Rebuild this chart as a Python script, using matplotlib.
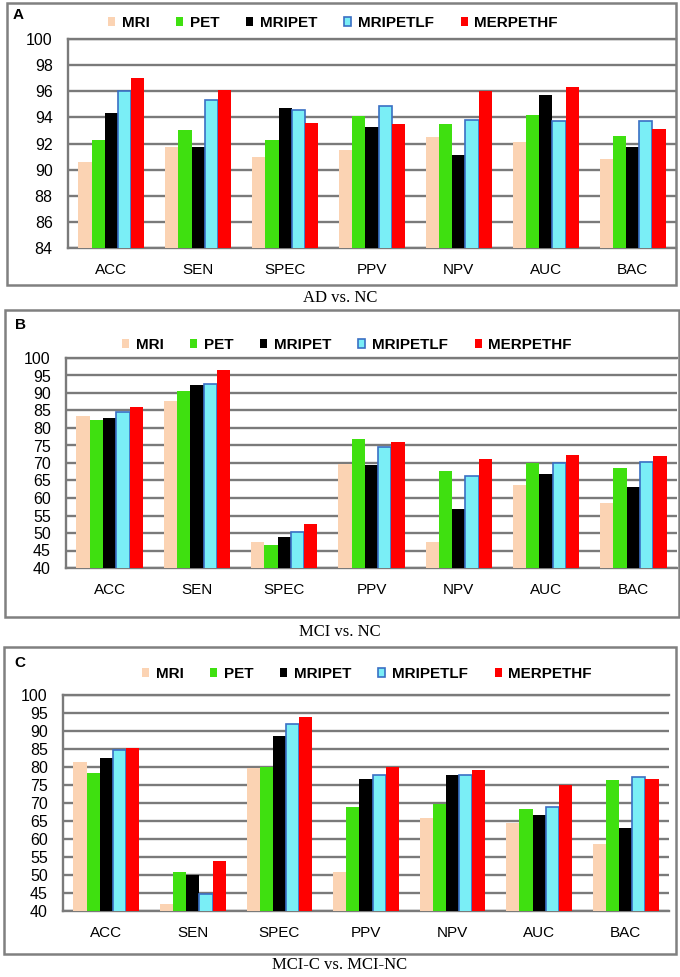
import matplotlib.pyplot as plt
from matplotlib.patches import Rectangle
import numpy as np

# categories and methods
metrics = ["ACC", "SEN", "SPEC", "PPV", "NPV", "AUC", "BAC"]
methods = ["MRI", "PET", "MRIPET", "MRIPETLF", "MERPETHF"]

# panel A: AD vs. NC
ad_mri      = [90.6, 91.7, 91.0, 91.5, 92.5, 92.1, 90.8]
ad_pet      = [92.3, 93.0, 92.3, 94.1, 93.5, 94.2, 92.6]
ad_mripet   = [94.3, 91.7, 94.7, 93.3, 91.1, 95.7, 91.7]
ad_mripetlf = [96.0, 95.3, 94.6, 94.9, 93.8, 93.7, 93.7]
ad_merpethf = [97.0, 96.1, 93.6, 93.5, 96.0, 96.3, 93.1]

# panel B: MCI vs. NC
mci_mri      = [83.5, 87.6, 47.4, 69.7, 47.4, 63.8, 58.6]
mci_pet      = [82.2, 90.5, 46.5, 76.9, 67.6, 69.9, 68.5]
mci_mripet   = [82.8, 92.4, 48.9, 69.5, 56.8, 66.8, 63.0]
mci_mripetlf = [84.6, 92.6, 50.2, 74.6, 66.4, 70.0, 70.3]
mci_merpethf = [85.9, 96.7, 52.6, 75.9, 71.0, 72.3, 71.9]

# panel C: MCI-C vs. MCI-NC
mcic_mri      = [81.5, 42.0, 79.6, 50.9, 65.9, 64.5, 58.6]
mcic_pet      = [78.4, 50.7, 79.9, 69.0, 69.8, 68.4, 76.4]
mcic_mripet   = [82.6, 50.1, 88.7, 76.8, 77.8, 66.8, 63.1]
mcic_mripetlf = [84.6, 44.8, 91.9, 77.9, 77.7, 69.0, 77.1]
mcic_merpethf = [85.2, 54.0, 94.0, 79.9, 79.2, 75.0, 76.7]

colors = ["#FBD3B3", "#3FE010", "#000000", "#7AEEF6", "#FF0000"]
edges = ["none", "none", "none", "#3A6FC4", "none"]
grid_col = "#7a7a7a"

plt.rcParams['font.family'] = ['Liberation Sans', 'DejaVu Sans']

fig = plt.figure(figsize=(6.8, 9.77), dpi=100)
W, H = 680.0, 977.0


def fx(px):
    return px / W


def fy(py):
    return 1 - py / H


panels = [
    dict(letter="A", title="AD vs. NC", data=[ad_mri, ad_pet, ad_mripet, ad_mripetlf, ad_merpethf],
         ylim=(84, 100), step=2, ax=(68, 676, 39, 248), box=(7, 676, 3, 285),
         leg_y=23, leg_x=333, let=(18, 15), title_y=298),
    dict(letter="B", title="MCI vs. NC", data=[mci_mri, mci_pet, mci_mripet, mci_mripetlf, mci_merpethf],
         ylim=(40, 100), step=5, ax=(66, 677, 358, 568), box=(5, 679, 310, 617),
         leg_y=345, leg_x=347, let=(20, 325), title_y=632),
    dict(letter="C", title="MCI-C vs. MCI-NC", data=[mcic_mri, mcic_pet, mcic_mripet, mcic_mripetlf, mcic_merpethf],
         ylim=(40, 100), step=5, ax=(63, 669, 695, 911), box=(4, 676, 647, 954),
         leg_y=674, leg_x=367, let=(20, 663), title_y=965),
]

x = np.arange(len(metrics))
bw = 0.152

for p in panels:
    l, r, t, b = p["ax"]
    bl, br, bt, bb = p["box"]
    fig.patches.append(Rectangle((fx(bl), fy(bb)), fx(br - bl), (bb - bt) / H,
                                 transform=fig.transFigure, fill=False,
                                 edgecolor="#808080", linewidth=1.8, zorder=0))
    ax = fig.add_axes([fx(l), fy(b), fx(r - l), (b - t) / H])
    handles = []
    for i, vals in enumerate(p["data"]):
        h = ax.bar(x + (i - 2) * bw, vals, width=bw, color=colors[i],
                   edgecolor=edges[i], linewidth=1.2 if edges[i] != "none" else 0,
                   zorder=3, label=methods[i])
        handles.append(h)
    ax.set_xlim(-0.5, len(metrics) - 0.5)
    ax.set_ylim(*p["ylim"])
    ax.set_yticks(np.arange(p["ylim"][0], p["ylim"][1] + 0.1, p["step"]))
    ax.yaxis.grid(True, color=grid_col, linewidth=1.7, zorder=0)
    ax.set_axisbelow(True)
    ax.set_xticks(x)
    ax.set_xticklabels(metrics, fontsize=11)
    ax.tick_params(axis="both", length=0)
    ax.tick_params(axis="x", pad=11)
    ax.tick_params(axis="y", pad=11, labelsize=11.5)
    for s in ["left", "bottom", "top"]:
        ax.spines[s].set_color(grid_col)
        ax.spines[s].set_linewidth(1.7)
    ax.spines["right"].set_visible(False)

    fig.legend(handles=handles, loc="center", bbox_to_anchor=(fx(p["leg_x"]), fy(p["leg_y"])),
               ncol=5, frameon=False, handlelength=0.45, handleheight=0.45,
               handletextpad=0.45, columnspacing=1.75, borderpad=0,
               prop=dict(weight="bold", size=11))
    fig.text(fx(p["let"][0]), fy(p["let"][1]), p["letter"], ha="center", va="center",
             fontsize=11, fontweight="bold")
    fig.text(0.5, fy(p["title_y"]), p["title"], ha="center", va="center",
             fontsize=12, family="Liberation Serif")

fig.savefig("out.png", dpi=100)
